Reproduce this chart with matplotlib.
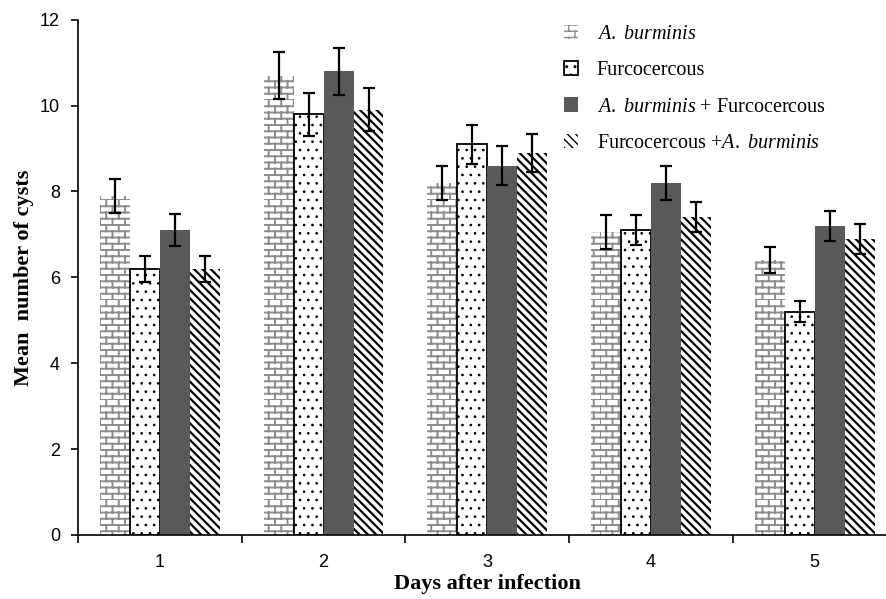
import warnings
import matplotlib
matplotlib.use('Agg')
import matplotlib.pyplot as plt
import matplotlib.hatch as mhatch
from matplotlib.path import Path
import numpy as np

# dados
days = ['1', '2', '3', '4', '5']
a_burminis = [7.9, 10.7, 8.2, 7.05, 6.4]
a_burminis_err = [0.4, 0.55, 0.4, 0.4, 0.3]
furco = [6.2, 9.8, 9.1, 7.1, 5.2]
furco_err = [0.3, 0.5, 0.45, 0.35, 0.25]
ab_furco = [7.1, 10.8, 8.6, 8.2, 7.2]
ab_furco_err = [0.37, 0.55, 0.45, 0.4, 0.35]
furco_ab = [6.2, 9.9, 8.9, 7.4, 6.9]
furco_ab_err = [0.3, 0.5, 0.45, 0.35, 0.35]


# hachura tipo tijolo (não existe no matplotlib)
class BrickHatch(mhatch.HatchPatternBase):
    def __init__(self, hatch, density):
        self.rows = 16 if 'b' in hatch else 0
        self.cols = 8
        self.num_vertices = 2 * self.rows + 2 * self.rows * self.cols

    def set_vertices_and_codes(self, vertices, codes):
        k = 0
        for i in range(self.rows):
            y = i / self.rows
            vertices[k] = (0, y); vertices[k + 1] = (1, y)
            codes[k] = Path.MOVETO; codes[k + 1] = Path.LINETO
            k += 2
            for j in range(self.cols):
                x = (j + 0.5 * (i % 2)) / self.cols
                vertices[k] = (x, y); vertices[k + 1] = (x, y + 1 / self.rows)
                codes[k] = Path.MOVETO; codes[k + 1] = Path.LINETO
                k += 2


mhatch._hatch_types.append(BrickHatch)
warnings.filterwarnings('ignore')

plt.rcParams['mathtext.fontset'] = 'custom'
plt.rcParams['mathtext.rm'] = 'Liberation Serif'
plt.rcParams['mathtext.it'] = 'Liberation Serif:italic'

fig = plt.figure(figsize=(8.86, 5.99), dpi=100)
ax = fig.add_axes([0.088, 0.107, 0.924, 0.86])

x = np.arange(1, len(days) + 1)
w = 0.183
ekw = dict(ecolor='black', elinewidth=1.6, capsize=4, capthick=1.6)

with plt.rc_context({'hatch.linewidth': 1.4}):
    ax.bar(x - 1.5 * w, a_burminis, w, yerr=a_burminis_err, color='white',
           edgecolor='#8c8c8c', hatch='b', linewidth=0, error_kw=ekw,
           label=r'$\it{A.}$ $\it{burminis}$')
with plt.rc_context({'hatch.linewidth': 0.7}):
    ax.bar(x - 0.5 * w, furco, w, yerr=furco_err, color='white',
           edgecolor='black', hatch='..', linewidth=1.3, error_kw=ekw,
           label='Furcocercous')
ax.bar(x + 0.5 * w, ab_furco, w, yerr=ab_furco_err, color='#595959',
       edgecolor='#595959', linewidth=0, error_kw=ekw,
       label=r'$\it{A.}$ $\it{burminis}$ + Furcocercous')
with plt.rc_context({'hatch.linewidth': 1.6}):
    ax.bar(x + 1.5 * w, furco_ab, w, yerr=furco_ab_err, color='white',
           edgecolor='black', hatch='\\\\\\\\', linewidth=0, error_kw=ekw,
           label=r'Furcocercous +$\it{A.}$ $\it{burminis}$')

ax.set_xlim(0.5, 5.5)
ax.set_ylim(0, 12)
ax.set_yticks(np.arange(0, 13, 2))
ax.set_xticks(x)
ax.set_xticklabels(days)
ax.set_xticks(np.arange(0.5, 6, 1), minor=True)
ax.tick_params(axis='x', which='major', length=0, pad=14)
ax.tick_params(axis='x', which='minor', length=6, width=1.2, direction='out')
ax.tick_params(axis='y', length=5, width=1.2, direction='out', pad=8)
for lab in ax.get_xticklabels() + ax.get_yticklabels():
    lab.set_fontfamily('Liberation Sans')
    lab.set_fontsize(13)

ax.spines['top'].set_visible(False)
ax.spines['right'].set_visible(False)
ax.spines['left'].set_linewidth(1.2)
ax.spines['bottom'].set_linewidth(1.2)

ax.set_ylabel('Mean  number of cysts', fontfamily='Liberation Serif',
              fontweight='bold', fontsize=16, labelpad=4)
ax.set_xlabel('Days after infection', fontfamily='Liberation Serif',
              fontweight='bold', fontsize=16, labelpad=2)

leg = ax.legend(loc='upper left', bbox_to_anchor=(0.572, 1.025), frameon=False,
                prop={'family': 'Liberation Serif', 'size': 14.5},
                handlelength=0.7, handleheight=0.7, labelspacing=0.85,
                handletextpad=0.9)

plt.savefig('out.png', dpi=100)
